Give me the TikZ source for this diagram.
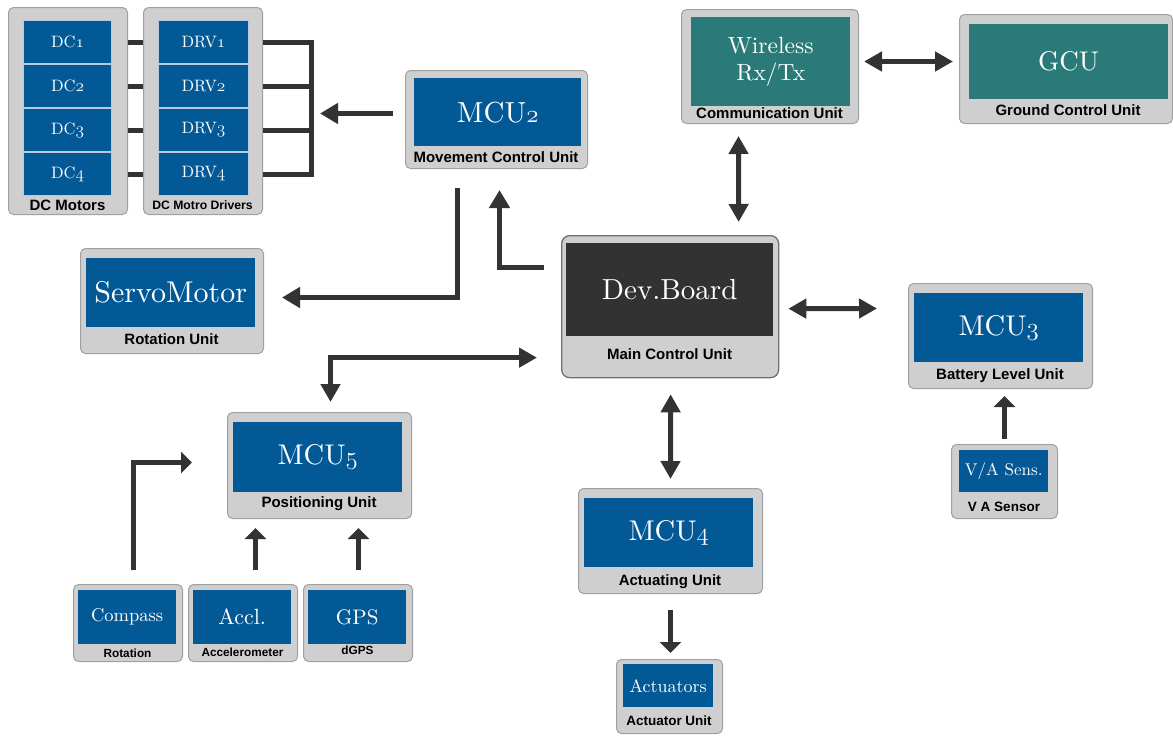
\documentclass[tikz,border=0pt]{standalone}
\usepackage{fontspec}
\setmainfont{lmroman10-regular.otf}
\setsansfont{Liberation Sans}
\usetikzlibrary{arrows.meta,calc}
\newcommand\osn[1]{{\usefont{OML}{lmm}{m}{it}#1}}
\newcommand\myfs[1]{\fontsize{#1}{#1}\selectfont}
\definecolor{blueC}{RGB}{3,89,150}
\definecolor{tealC}{RGB}{41,122,120}
\definecolor{darkC}{RGB}{50,50,50}
\definecolor{boxC}{RGB}{207,207,207}
\definecolor{bordC}{RGB}{160,160,160}
\definecolor{arrC}{RGB}{51,51,51}
\definecolor{sepC}{RGB}{185,200,222}
\tikzset{
  outer/.style={draw=bordC, fill=boxC, line width=1pt, rounded corners=5pt, inner sep=0pt, anchor=north west},
  inner/.style={fill=blueC, text=white, inner sep=0pt, anchor=north west, align=center},
  cell/.style={inner, draw=sepC, line width=1pt, minimum height=43pt, font=\myfs{16.5}},
  lab/.style={font=\sffamily\bfseries\myfs{15}, text=black, inner sep=0pt},
  labm/.style={font=\sffamily\bfseries\myfs{13.5}, text=black, inner sep=0pt},
  labs/.style={font=\sffamily\bfseries\myfs{11.8}, text=black, inner sep=0pt},
  con/.style={draw=arrC, line width=5pt, line join=miter},
  arr/.style={con, -{Triangle[width=20pt,length=18pt]}},
  arrs/.style={con, line width=4.5pt, -{Triangle[width=21pt,length=11pt]}},
  darr/.style={con, {Triangle[width=19pt,length=18pt]}-{Triangle[width=19pt,length=18pt]}}
}
\begin{document}
\begin{tikzpicture}[x=1pt,y=-1pt]
\useasboundingbox (0,0) rectangle (1173,736);

% DC motors
\node[outer, minimum width=119pt, minimum height=207pt] (dcm) at (8,7) {};
\node[cell, minimum width=88pt] (dc1) at (23,20) {DC\osn{1}};
\node[cell, minimum width=88pt] (dc2) at (23,64) {DC\osn{2}};
\node[cell, minimum width=88pt] (dc3) at (23,108) {DC\osn{3}};
\node[cell, minimum width=88pt] (dc4) at (23,152) {DC\osn{4}};
\node[lab] (dcml) at (67.5,205) {DC Motors};

% DC motor drivers
\node[outer, minimum width=119pt, minimum height=207pt] (drv) at (143,7) {};
\node[cell, minimum width=90pt] (drv1) at (158,20) {DRV\osn{1}};
\node[cell, minimum width=90pt] (drv2) at (158,64) {DRV\osn{2}};
\node[cell, minimum width=90pt] (drv3) at (158,108) {DRV\osn{3}};
\node[cell, minimum width=90pt] (drv4) at (158,152) {DRV\osn{4}};
\node[labs, font=\sffamily\bfseries\myfs{12.2}] (drvl) at (202.5,205) {DC Motro Drivers};

% MCU2
\node[outer, minimum width=182pt, minimum height=98pt] (mcu2) at (405,70) {};
\node[inner, minimum width=167pt, minimum height=68pt, font=\myfs{29}] (mcu2i) at (414,78) {MCU\osn{2}};
\node[lab] (mcu2l) at (496,157) {Movement Control Unit};

% Servo
\node[outer, minimum width=183pt, minimum height=105pt] (servo) at (80,248) {};
\node[inner, minimum width=169pt, minimum height=69pt, font=\myfs{30}] (servoi) at (86,258) {ServoMotor};
\node[lab] (servol) at (171.5,339) {Rotation Unit};

% Dev board
\node[outer, rounded corners=8pt, line width=1.3pt, draw=arrC!70, minimum width=217pt, minimum height=142pt] (dev) at (561,235) {};
\node[inner, fill=darkC, minimum width=207pt, minimum height=93pt, font=\myfs{29}] (devi) at (566,243) {Dev.Board};
\node[lab] (devl) at (669.5,354) {Main Control Unit};

% Wireless
\node[outer, minimum width=177pt, minimum height=114pt] (wifi) at (681,9) {};
\node[inner, fill=tealC, minimum width=159pt, minimum height=89pt, font=\fontsize{23.5}{27}\selectfont] (wifii) at (691,17) {Wireless\\Rx/Tx};
\node[lab] (wifil) at (769.5,113) {Communication Unit};

% GCU
\node[outer, minimum width=213pt, minimum height=109pt] (gcu) at (959,14) {};
\node[inner, fill=tealC, minimum width=199pt, minimum height=75pt, font=\myfs{27}] (gcui) at (969,24) {GCU};
\node[lab] (gcul) at (1068,110) {Ground Control Unit};

% MCU3
\node[outer, minimum width=184pt, minimum height=105pt] (mcu3) at (908,283) {};
\node[inner, minimum width=169pt, minimum height=69pt, font=\myfs{28.5}] (mcu3i) at (914,293) {MCU\osn{3}};
\node[lab] (mcu3l) at (1000,376) {Battery Level Unit};

% V/A sensor
\node[outer, minimum width=106pt, minimum height=74pt] (va) at (951,444) {};
\node[inner, minimum width=89pt, minimum height=42pt, font=\myfs{17}] (vai) at (959,450) {V/A Sens.};
\node[labm] (val) at (1004,507) {V A Sensor};

% MCU5
\node[outer, minimum width=184pt, minimum height=106pt] (mcu5) at (227,412) {};
\node[inner, minimum width=169pt, minimum height=70pt, font=\myfs{28.5}] (mcu5i) at (233,422) {MCU\osn{5}};
\node[lab] (mcu5l) at (319,504) {Positioning Unit};

% MCU4
\node[outer, minimum width=184pt, minimum height=105pt] (mcu4) at (578,488) {};
\node[inner, minimum width=169pt, minimum height=69pt, font=\myfs{28.5}] (mcu4i) at (584,498) {MCU\osn{4}};
\node[lab] (mcu4l) at (670,582) {Actuating Unit};

% Actuators
\node[outer, minimum width=106pt, minimum height=74pt] (act) at (616,659) {};
\node[inner, minimum width=90pt, minimum height=43pt, font=\myfs{18}] (acti) at (623,664) {Actuators};
\node[labm] (actl) at (669,721) {Actuator Unit};

% Sensors
\node[outer, minimum width=109pt, minimum height=77pt] (compass) at (73,584) {};
\node[inner, minimum width=98pt, minimum height=54pt, font=\myfs{18.5}] (compassi) at (78,590) {Compass};
\node[labs] (compassl) at (127.5,653) {Rotation};

\node[outer, minimum width=109pt, minimum height=77pt] (accl) at (188,584) {};
\node[inner, minimum width=98pt, minimum height=54pt, font=\myfs{22}] (accli) at (193,590) {Accl.};
\node[labs] (accll) at (242.5,652) {Accelerometer};

\node[outer, minimum width=109pt, minimum height=77pt] (gps) at (303,584) {};
\node[inner, minimum width=98pt, minimum height=54pt, font=\myfs{21}] (gpsi) at (308,590) {GPS};
\node[labs] (gpsl) at (357.5,650) {dGPS};

% motor / driver links
\draw[con] (dcm.east |- dc1.center) -- (drv.west |- drv1.center);
\draw[con] (dcm.east |- dc2.center) -- (drv.west |- drv2.center);
\draw[con] (dcm.east |- dc3.center) -- (drv.west |- drv3.center);
\draw[con] (dcm.east |- dc4.center) -- (drv.west |- drv4.center);
\draw[con] (drv.east |- drv1.center) -- ($(drv.east |- drv1.center)+(48,0)$) -- ($(drv.east |- drv4.center)+(48,0)$) -- (drv.east |- drv4.center);
\draw[con] (drv.east |- drv2.center) -- ($(drv.east |- drv2.center)+(48,0)$);
\draw[con] (drv.east |- drv3.center) -- ($(drv.east |- drv3.center)+(48,0)$);

% arrows
\draw[arr] ($(mcu2.west)+(-12,-6)$) -- ($(mcu2.west)+(-85,-6)$);
\draw[arr] ($(mcu2.south)+(-39,19)$) |- ($(servo.east)+(18,-3.5)$);
\draw[arr] ($(dev.west)+(-17,-39)$) -| ($(mcu2.south)+(3,21)$);
\draw[darr] ($(dev.west)+(-24,51)$) -| ($(mcu5.north)+(11,-10)$);
\draw[darr] ($(wifi.south)+(-31.5,12)$) -- ($(dev.north)+(68.5,-13)$);
\draw[darr] ($(wifi.east)+(5,-5)$) -- ($(gcu.west)+(-6,-7.5)$);
\draw[darr] ($(dev.east)+(9,2)$) -- ($(mcu3.west)+(-31,-27.5)$);
\draw[darr] ($(dev.south)+(0.5,16)$) -- ($(mcu4.north)+(0,-9)$);
\draw[arrs] ($(mcu4.south)+(0,16)$) -- ($(act.north)+(1,-6)$);
\draw[arrs] ($(va.north)+(0,-5)$) -- ($(mcu3.south)+(4,7)$);
\draw[arrs] ($(compass.north)+(5.5,-14)$) |- ($(mcu5.west)+(-35,-3)$);
\draw[arrs] ($(accl.north)+(12.5,-14)$) -- ($(mcu5.south)+(-64,9)$);
\draw[arrs] ($(gps.north)+(0.5,-14)$) -- ($(mcu5.south)+(39,9)$);
\end{tikzpicture}
\end{document}
